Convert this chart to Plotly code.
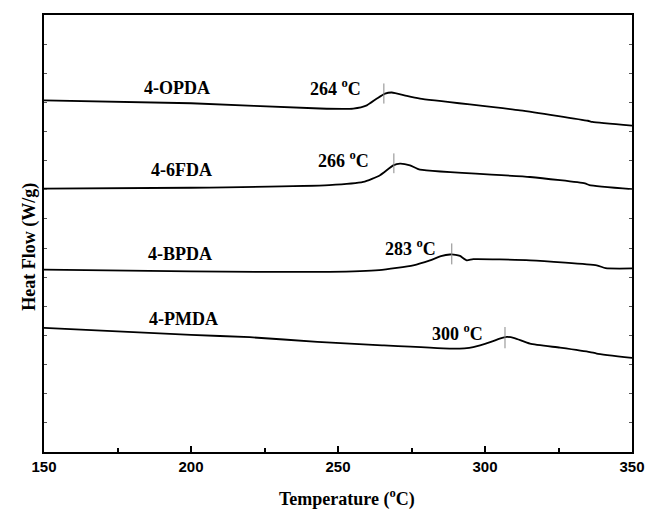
import plotly.graph_objects as go

# Temperature (°C) and heat flow (arbitrary offset units)
opda_T = [150, 200, 243.9, 255.2, 259.8, 263.2, 266, 268.3, 273.4, 277.9, 311.9, 335, 336.5, 350]
opda_H = [12.07, 11.97, 11.79, 11.79, 11.90, 12.13, 12.30, 12.34, 12.22, 12.13, 11.73, 11.37, 11.33, 11.20]

fda_T = [150, 200, 247, 258.6, 264.3, 268.8, 271.1, 274.5, 277.9, 315.3, 334, 335.5, 350]
fda_H = [9.04, 9.07, 9.16, 9.27, 9.50, 9.84, 9.90, 9.84, 9.69, 9.44, 9.22, 9.16, 9.02]

bpda_T = [150, 200, 247, 264, 275.6, 281.3, 285, 288.1, 290, 291.5, 293.8, 296, 315.3, 338, 341, 350]
bpda_H = [6.26, 6.20, 6.18, 6.24, 6.41, 6.58, 6.72, 6.78, 6.77, 6.73, 6.58, 6.62, 6.58, 6.41, 6.31, 6.30]

pmda_T = [150, 200, 220, 243, 265, 288, 293, 296, 302, 305, 307.4, 310, 315.3, 325.5, 335.7, 338, 350]
pmda_H = [4.26, 4.02, 3.94, 3.78, 3.66, 3.55, 3.56, 3.60, 3.78, 3.89, 3.95, 3.91, 3.72, 3.58, 3.43, 3.38, 3.23]

series_names = ["4-OPDA", "4-6FDA", "4-BPDA", "4-PMDA"]
series_T = [opda_T, fda_T, bpda_T, pmda_T]
series_H = [opda_H, fda_H, bpda_H, pmda_H]

# Onset markers
onset_labels = ["264 <sup>o</sup>C", "266 <sup>o</sup>C", "283 <sup>o</sup>C", "300 <sup>o</sup>C"]
onset_T = [265.6, 269.0, 288.7, 306.8]
onset_lo = [11.96, 9.57, 6.44, 3.56]
onset_hi = [12.65, 10.25, 7.16, 4.29]
onset_label_T = [249.3, 252.0, 274.8, 290.8]
onset_label_H = [12.52, 10.04, 7.03, 4.11]

name_label_T = [195.4, 196.6, 196.1, 197.3]
name_label_H = [12.48, 9.67, 6.81, 4.58]

x_ticks = [150, 200, 250, 300, 350]

fig = go.Figure()
for T, H in zip(series_T, series_H):
    fig.add_trace(go.Scatter(x=T, y=H, mode="lines",
                             line=dict(color="black", width=1.8, shape="spline", smoothing=0.5),
                             showlegend=False, hoverinfo="skip"))
for t, lo, hi in zip(onset_T, onset_lo, onset_hi):
    fig.add_trace(go.Scatter(x=[t, t], y=[lo, hi], mode="lines",
                             line=dict(color="#888888", width=1),
                             showlegend=False, hoverinfo="skip"))

serif = "Liberation Serif"
for name, t, h in zip(series_names, name_label_T, name_label_H):
    fig.add_annotation(x=t, y=h, text="<b>%s</b>" % name, showarrow=False,
                       font=dict(family=serif, size=18, color="black"))
for lab, t, h in zip(onset_labels, onset_label_T, onset_label_H):
    fig.add_annotation(x=t, y=h, text="<b>%s</b>" % lab, showarrow=False,
                       font=dict(family=serif, size=18, color="black"))

fig.add_annotation(xref="paper", yref="paper", x=0.515, y=-0.105, yanchor="middle",
                   text="<b>Temperature (<sup>o</sup>C)</b>", showarrow=False,
                   font=dict(family=serif, size=18, color="black"))
fig.add_annotation(xref="paper", yref="paper", x=-0.045, y=0.47, textangle=-90,
                   text="<b>Heat Flow (W/g)</b>", showarrow=False,
                   font=dict(family=serif, size=18, color="black"))

fig.update_layout(
    width=646, height=509,
    margin=dict(l=44, r=14, t=15, b=57, autoexpand=False),
    paper_bgcolor="white", plot_bgcolor="white",
    xaxis=dict(range=[150, 350], tickvals=x_ticks, ticks="inside", ticklen=6, tickwidth=1.5,
               tickcolor="black", showline=True, linecolor="black", linewidth=2, mirror=True,
               showgrid=False, zeroline=False, automargin=False,
               tickfont=dict(family="Liberation Sans", size=15, color="black", weight="bold"),
               minor=dict(dtick=25, tick0=150, ticks="inside", ticklen=4, tickcolor="black")),
    yaxis=dict(range=[0, 15], dtick=1, ticks="inside", ticklen=3, tickwidth=1, tickcolor="#555555",
               showticklabels=False, showline=True, linecolor="black", linewidth=2, mirror="ticks",
               showgrid=False, zeroline=False, automargin=False),
)

fig.write_html("out.html")
